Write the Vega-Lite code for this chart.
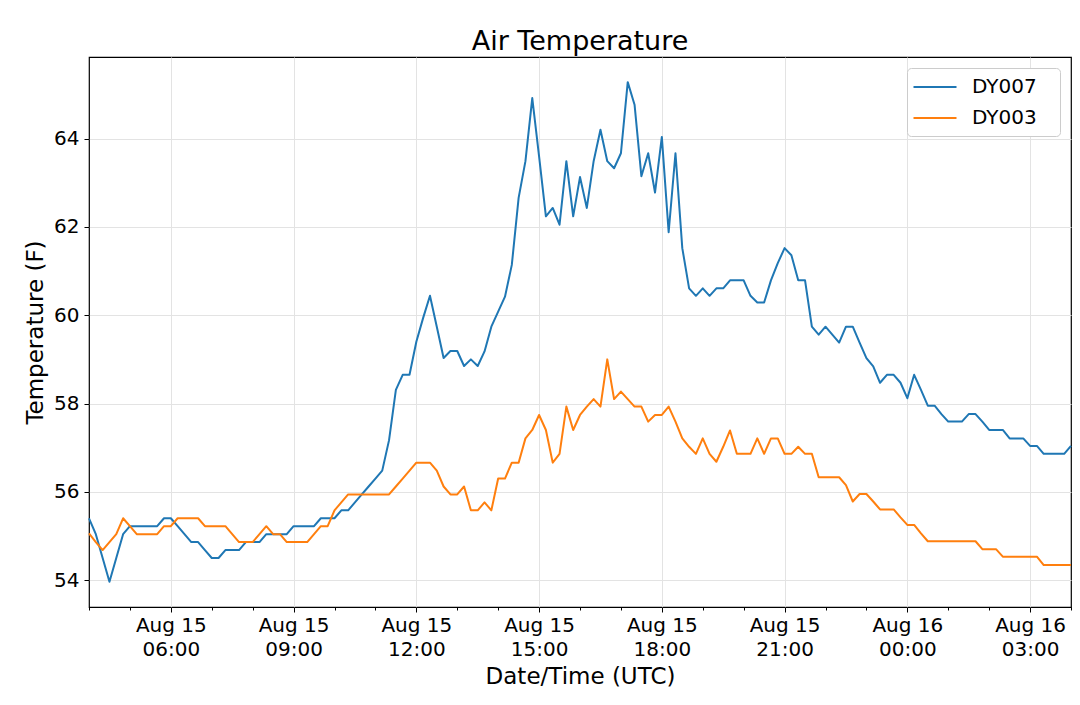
{
  "$schema": "https://vega.github.io/schema/vega-lite/v6.json",
  "autosize": "none",
  "width": 982,
  "height": 550,
  "padding": {"left": 89, "top": 57, "right": 9, "bottom": 98},
  "background": "white",
  "title": {
    "text": "Air Temperature",
    "font": "DejaVu Sans",
    "fontSize": 27,
    "fontWeight": "normal",
    "color": "#000",
    "baseline": "alphabetic",
    "offset": 7,
    "dy": 27
  },
  "data": {
    "values": [
      {"t": "2019-08-15T04:00:00Z", "DY007": 55.40, "DY003": 55.06},
      {"t": "2019-08-15T04:10:00Z", "DY007": 55.04, "DY003": 54.86},
      {"t": "2019-08-15T04:20:00Z", "DY007": 54.50, "DY003": 54.68},
      {"t": "2019-08-15T04:30:00Z", "DY007": 53.96, "DY003": 54.86},
      {"t": "2019-08-15T04:40:00Z", "DY007": 54.50, "DY003": 55.04},
      {"t": "2019-08-15T04:50:00Z", "DY007": 55.04, "DY003": 55.40},
      {"t": "2019-08-15T05:00:00Z", "DY007": 55.22, "DY003": 55.22},
      {"t": "2019-08-15T05:10:00Z", "DY007": 55.22, "DY003": 55.04},
      {"t": "2019-08-15T05:20:00Z", "DY007": 55.22, "DY003": 55.04},
      {"t": "2019-08-15T05:30:00Z", "DY007": 55.22, "DY003": 55.04},
      {"t": "2019-08-15T05:40:00Z", "DY007": 55.22, "DY003": 55.04},
      {"t": "2019-08-15T05:50:00Z", "DY007": 55.40, "DY003": 55.22},
      {"t": "2019-08-15T06:00:00Z", "DY007": 55.40, "DY003": 55.22},
      {"t": "2019-08-15T06:10:00Z", "DY007": 55.22, "DY003": 55.40},
      {"t": "2019-08-15T06:20:00Z", "DY007": 55.04, "DY003": 55.40},
      {"t": "2019-08-15T06:30:00Z", "DY007": 54.86, "DY003": 55.40},
      {"t": "2019-08-15T06:40:00Z", "DY007": 54.86, "DY003": 55.40},
      {"t": "2019-08-15T06:50:00Z", "DY007": 54.68, "DY003": 55.22},
      {"t": "2019-08-15T07:00:00Z", "DY007": 54.50, "DY003": 55.22},
      {"t": "2019-08-15T07:10:00Z", "DY007": 54.50, "DY003": 55.22},
      {"t": "2019-08-15T07:20:00Z", "DY007": 54.68, "DY003": 55.22},
      {"t": "2019-08-15T07:30:00Z", "DY007": 54.68, "DY003": 55.04},
      {"t": "2019-08-15T07:40:00Z", "DY007": 54.68, "DY003": 54.86},
      {"t": "2019-08-15T07:50:00Z", "DY007": 54.86, "DY003": 54.86},
      {"t": "2019-08-15T08:00:00Z", "DY007": 54.86, "DY003": 54.86},
      {"t": "2019-08-15T08:10:00Z", "DY007": 54.86, "DY003": 55.04},
      {"t": "2019-08-15T08:20:00Z", "DY007": 55.04, "DY003": 55.22},
      {"t": "2019-08-15T08:30:00Z", "DY007": 55.04, "DY003": 55.04},
      {"t": "2019-08-15T08:40:00Z", "DY007": 55.04, "DY003": 55.04},
      {"t": "2019-08-15T08:50:00Z", "DY007": 55.04, "DY003": 54.86},
      {"t": "2019-08-15T09:00:00Z", "DY007": 55.22, "DY003": 54.86},
      {"t": "2019-08-15T09:10:00Z", "DY007": 55.22, "DY003": 54.86},
      {"t": "2019-08-15T09:20:00Z", "DY007": 55.22, "DY003": 54.86},
      {"t": "2019-08-15T09:30:00Z", "DY007": 55.22, "DY003": 55.04},
      {"t": "2019-08-15T09:40:00Z", "DY007": 55.40, "DY003": 55.22},
      {"t": "2019-08-15T09:50:00Z", "DY007": 55.40, "DY003": 55.22},
      {"t": "2019-08-15T10:00:00Z", "DY007": 55.40, "DY003": 55.58},
      {"t": "2019-08-15T10:10:00Z", "DY007": 55.58, "DY003": 55.76},
      {"t": "2019-08-15T10:20:00Z", "DY007": 55.58, "DY003": 55.94},
      {"t": "2019-08-15T10:30:00Z", "DY007": 55.76, "DY003": 55.94},
      {"t": "2019-08-15T10:40:00Z", "DY007": 55.94, "DY003": 55.94},
      {"t": "2019-08-15T10:50:00Z", "DY007": 56.12, "DY003": 55.94},
      {"t": "2019-08-15T11:00:00Z", "DY007": 56.30, "DY003": 55.94},
      {"t": "2019-08-15T11:10:00Z", "DY007": 56.48, "DY003": 55.94},
      {"t": "2019-08-15T11:20:00Z", "DY007": 57.17, "DY003": 55.94},
      {"t": "2019-08-15T11:30:00Z", "DY007": 58.31, "DY003": 56.12},
      {"t": "2019-08-15T11:40:00Z", "DY007": 58.65, "DY003": 56.30},
      {"t": "2019-08-15T11:50:00Z", "DY007": 58.65, "DY003": 56.48},
      {"t": "2019-08-15T12:00:00Z", "DY007": 59.40, "DY003": 56.66},
      {"t": "2019-08-15T12:10:00Z", "DY007": 59.94, "DY003": 56.66},
      {"t": "2019-08-15T12:20:00Z", "DY007": 60.44, "DY003": 56.66},
      {"t": "2019-08-15T12:30:00Z", "DY007": 59.74, "DY003": 56.48},
      {"t": "2019-08-15T12:40:00Z", "DY007": 59.03, "DY003": 56.12},
      {"t": "2019-08-15T12:50:00Z", "DY007": 59.19, "DY003": 55.94},
      {"t": "2019-08-15T13:00:00Z", "DY007": 59.19, "DY003": 55.94},
      {"t": "2019-08-15T13:10:00Z", "DY007": 58.85, "DY003": 56.12},
      {"t": "2019-08-15T13:20:00Z", "DY007": 59.00, "DY003": 55.58},
      {"t": "2019-08-15T13:30:00Z", "DY007": 58.85, "DY003": 55.58},
      {"t": "2019-08-15T13:40:00Z", "DY007": 59.18, "DY003": 55.76},
      {"t": "2019-08-15T13:50:00Z", "DY007": 59.74, "DY003": 55.58},
      {"t": "2019-08-15T14:00:00Z", "DY007": 60.08, "DY003": 56.30},
      {"t": "2019-08-15T14:10:00Z", "DY007": 60.42, "DY003": 56.30},
      {"t": "2019-08-15T14:20:00Z", "DY007": 61.14, "DY003": 56.66},
      {"t": "2019-08-15T14:30:00Z", "DY007": 62.66, "DY003": 56.66},
      {"t": "2019-08-15T14:40:00Z", "DY007": 63.49, "DY003": 57.21},
      {"t": "2019-08-15T14:50:00Z", "DY007": 64.92, "DY003": 57.40},
      {"t": "2019-08-15T15:00:00Z", "DY007": 63.60, "DY003": 57.74},
      {"t": "2019-08-15T15:10:00Z", "DY007": 62.24, "DY003": 57.40},
      {"t": "2019-08-15T15:20:00Z", "DY007": 62.43, "DY003": 56.66},
      {"t": "2019-08-15T15:30:00Z", "DY007": 62.05, "DY003": 56.86},
      {"t": "2019-08-15T15:40:00Z", "DY007": 63.49, "DY003": 57.93},
      {"t": "2019-08-15T15:50:00Z", "DY007": 62.24, "DY003": 57.40},
      {"t": "2019-08-15T16:00:00Z", "DY007": 63.13, "DY003": 57.74},
      {"t": "2019-08-15T16:10:00Z", "DY007": 62.43, "DY003": 57.93},
      {"t": "2019-08-15T16:20:00Z", "DY007": 63.49, "DY003": 58.10},
      {"t": "2019-08-15T16:30:00Z", "DY007": 64.20, "DY003": 57.93},
      {"t": "2019-08-15T16:40:00Z", "DY007": 63.49, "DY003": 59.00},
      {"t": "2019-08-15T16:50:00Z", "DY007": 63.33, "DY003": 58.10},
      {"t": "2019-08-15T17:00:00Z", "DY007": 63.67, "DY003": 58.27},
      {"t": "2019-08-15T17:10:00Z", "DY007": 65.28, "DY003": 58.10},
      {"t": "2019-08-15T17:20:00Z", "DY007": 64.77, "DY003": 57.93},
      {"t": "2019-08-15T17:30:00Z", "DY007": 63.15, "DY003": 57.93},
      {"t": "2019-08-15T17:40:00Z", "DY007": 63.67, "DY003": 57.59},
      {"t": "2019-08-15T17:50:00Z", "DY007": 62.78, "DY003": 57.74},
      {"t": "2019-08-15T18:00:00Z", "DY007": 64.04, "DY003": 57.74},
      {"t": "2019-08-15T18:10:00Z", "DY007": 61.88, "DY003": 57.93},
      {"t": "2019-08-15T18:20:00Z", "DY007": 63.67, "DY003": 57.59},
      {"t": "2019-08-15T18:30:00Z", "DY007": 61.52, "DY003": 57.21},
      {"t": "2019-08-15T18:40:00Z", "DY007": 60.61, "DY003": 57.02},
      {"t": "2019-08-15T18:50:00Z", "DY007": 60.44, "DY003": 56.86},
      {"t": "2019-08-15T19:00:00Z", "DY007": 60.61, "DY003": 57.21},
      {"t": "2019-08-15T19:10:00Z", "DY007": 60.44, "DY003": 56.86},
      {"t": "2019-08-15T19:20:00Z", "DY007": 60.61, "DY003": 56.68},
      {"t": "2019-08-15T19:30:00Z", "DY007": 60.61, "DY003": 57.02},
      {"t": "2019-08-15T19:40:00Z", "DY007": 60.79, "DY003": 57.39},
      {"t": "2019-08-15T19:50:00Z", "DY007": 60.79, "DY003": 56.86},
      {"t": "2019-08-15T20:00:00Z", "DY007": 60.79, "DY003": 56.86},
      {"t": "2019-08-15T20:10:00Z", "DY007": 60.44, "DY003": 56.86},
      {"t": "2019-08-15T20:20:00Z", "DY007": 60.29, "DY003": 57.21},
      {"t": "2019-08-15T20:30:00Z", "DY007": 60.29, "DY003": 56.86},
      {"t": "2019-08-15T20:40:00Z", "DY007": 60.79, "DY003": 57.21},
      {"t": "2019-08-15T20:50:00Z", "DY007": 61.18, "DY003": 57.21},
      {"t": "2019-08-15T21:00:00Z", "DY007": 61.52, "DY003": 56.86},
      {"t": "2019-08-15T21:10:00Z", "DY007": 61.36, "DY003": 56.86},
      {"t": "2019-08-15T21:20:00Z", "DY007": 60.79, "DY003": 57.02},
      {"t": "2019-08-15T21:30:00Z", "DY007": 60.79, "DY003": 56.86},
      {"t": "2019-08-15T21:40:00Z", "DY007": 59.74, "DY003": 56.86},
      {"t": "2019-08-15T21:50:00Z", "DY007": 59.56, "DY003": 56.33},
      {"t": "2019-08-15T22:00:00Z", "DY007": 59.74, "DY003": 56.33},
      {"t": "2019-08-15T22:10:00Z", "DY007": 59.56, "DY003": 56.33},
      {"t": "2019-08-15T22:20:00Z", "DY007": 59.38, "DY003": 56.33},
      {"t": "2019-08-15T22:30:00Z", "DY007": 59.74, "DY003": 56.15},
      {"t": "2019-08-15T22:40:00Z", "DY007": 59.74, "DY003": 55.78},
      {"t": "2019-08-15T22:50:00Z", "DY007": 59.38, "DY003": 55.95},
      {"t": "2019-08-15T23:00:00Z", "DY007": 59.03, "DY003": 55.95},
      {"t": "2019-08-15T23:10:00Z", "DY007": 58.84, "DY003": 55.78},
      {"t": "2019-08-15T23:20:00Z", "DY007": 58.47, "DY003": 55.60},
      {"t": "2019-08-15T23:30:00Z", "DY007": 58.65, "DY003": 55.60},
      {"t": "2019-08-15T23:40:00Z", "DY007": 58.65, "DY003": 55.60},
      {"t": "2019-08-15T23:50:00Z", "DY007": 58.47, "DY003": 55.42},
      {"t": "2019-08-16T00:00:00Z", "DY007": 58.12, "DY003": 55.25},
      {"t": "2019-08-16T00:10:00Z", "DY007": 58.65, "DY003": 55.25},
      {"t": "2019-08-16T00:20:00Z", "DY007": 58.31, "DY003": 55.06},
      {"t": "2019-08-16T00:30:00Z", "DY007": 57.95, "DY003": 54.88},
      {"t": "2019-08-16T00:40:00Z", "DY007": 57.95, "DY003": 54.88},
      {"t": "2019-08-16T00:50:00Z", "DY007": 57.76, "DY003": 54.88},
      {"t": "2019-08-16T01:00:00Z", "DY007": 57.59, "DY003": 54.88},
      {"t": "2019-08-16T01:10:00Z", "DY007": 57.59, "DY003": 54.88},
      {"t": "2019-08-16T01:20:00Z", "DY007": 57.59, "DY003": 54.88},
      {"t": "2019-08-16T01:30:00Z", "DY007": 57.76, "DY003": 54.88},
      {"t": "2019-08-16T01:40:00Z", "DY007": 57.76, "DY003": 54.88},
      {"t": "2019-08-16T01:50:00Z", "DY007": 57.59, "DY003": 54.70},
      {"t": "2019-08-16T02:00:00Z", "DY007": 57.40, "DY003": 54.70},
      {"t": "2019-08-16T02:10:00Z", "DY007": 57.40, "DY003": 54.70},
      {"t": "2019-08-16T02:20:00Z", "DY007": 57.40, "DY003": 54.53},
      {"t": "2019-08-16T02:30:00Z", "DY007": 57.21, "DY003": 54.53},
      {"t": "2019-08-16T02:40:00Z", "DY007": 57.21, "DY003": 54.53},
      {"t": "2019-08-16T02:50:00Z", "DY007": 57.21, "DY003": 54.53},
      {"t": "2019-08-16T03:00:00Z", "DY007": 57.04, "DY003": 54.53},
      {"t": "2019-08-16T03:10:00Z", "DY007": 57.04, "DY003": 54.53},
      {"t": "2019-08-16T03:20:00Z", "DY007": 56.86, "DY003": 54.34},
      {"t": "2019-08-16T03:30:00Z", "DY007": 56.86, "DY003": 54.34},
      {"t": "2019-08-16T03:40:00Z", "DY007": 56.86, "DY003": 54.34},
      {"t": "2019-08-16T03:50:00Z", "DY007": 56.86, "DY003": 54.34},
      {"t": "2019-08-16T04:00:00Z", "DY007": 57.04, "DY003": 54.34}
    ]
  },
  "transform": [
    {"fold": ["DY007", "DY003"], "as": ["station", "temp"]}
  ],
  "mark": {"type": "line", "strokeWidth": 2, "strokeJoin": "round"},
  "encoding": {
    "x": {
      "field": "t",
      "type": "temporal",
      "scale": {
        "type": "utc",
        "domain": [
          {"year": 2019, "month": 8, "date": 15, "hours": 4, "utc": true},
          {"year": 2019, "month": 8, "date": 16, "hours": 4, "utc": true}
        ]
      },
      "axis": {
        "title": "Date/Time (UTC)",
        "titleX": 491,
        "titleY": 76,
        "titleBaseline": "alphabetic",
        "titleAlign": "center",
        "values": [
          {"year": 2019, "month": 8, "date": 15, "hours": 4, "utc": true},
          {"year": 2019, "month": 8, "date": 15, "hours": 5, "utc": true},
          {"year": 2019, "month": 8, "date": 15, "hours": 6, "utc": true},
          {"year": 2019, "month": 8, "date": 15, "hours": 7, "utc": true},
          {"year": 2019, "month": 8, "date": 15, "hours": 8, "utc": true},
          {"year": 2019, "month": 8, "date": 15, "hours": 9, "utc": true},
          {"year": 2019, "month": 8, "date": 15, "hours": 10, "utc": true},
          {"year": 2019, "month": 8, "date": 15, "hours": 11, "utc": true},
          {"year": 2019, "month": 8, "date": 15, "hours": 12, "utc": true},
          {"year": 2019, "month": 8, "date": 15, "hours": 13, "utc": true},
          {"year": 2019, "month": 8, "date": 15, "hours": 14, "utc": true},
          {"year": 2019, "month": 8, "date": 15, "hours": 15, "utc": true},
          {"year": 2019, "month": 8, "date": 15, "hours": 16, "utc": true},
          {"year": 2019, "month": 8, "date": 15, "hours": 17, "utc": true},
          {"year": 2019, "month": 8, "date": 15, "hours": 18, "utc": true},
          {"year": 2019, "month": 8, "date": 15, "hours": 19, "utc": true},
          {"year": 2019, "month": 8, "date": 15, "hours": 20, "utc": true},
          {"year": 2019, "month": 8, "date": 15, "hours": 21, "utc": true},
          {"year": 2019, "month": 8, "date": 15, "hours": 22, "utc": true},
          {"year": 2019, "month": 8, "date": 15, "hours": 23, "utc": true},
          {"year": 2019, "month": 8, "date": 16, "hours": 0, "utc": true},
          {"year": 2019, "month": 8, "date": 16, "hours": 1, "utc": true},
          {"year": 2019, "month": 8, "date": 16, "hours": 2, "utc": true},
          {"year": 2019, "month": 8, "date": 16, "hours": 3, "utc": true},
          {"year": 2019, "month": 8, "date": 16, "hours": 4, "utc": true}
        ],
        "labelExpr": "utchours(datum.value) % 3 == 0 ? [utcFormat(datum.value, '%b %d'), utcFormat(datum.value, '%H:%M')] : ''",
        "labelOverlap": false,
        "labelFlush": false,
        "labelBaseline": "top",
        "labelPadding": 3,
        "labelLineHeight": 24,
        "tickSize": {"condition": {"test": "utchours(datum.value) % 3 == 0", "value": 5}, "value": 3},
        "gridOpacity": {"condition": {"test": "utchours(datum.value) % 3 == 0", "value": 1}, "value": 0}
      }
    },
    "y": {
      "field": "temp",
      "type": "quantitative",
      "scale": {"domain": [53.39, 65.85], "nice": false, "zero": false},
      "axis": {
        "title": "Temperature (F)",
        "values": [54, 56, 58, 60, 62, 64],
        "titleX": -47,
        "titleY": 275,
        "titleAngle": -90,
        "titleBaseline": "alphabetic",
        "titleAlign": "center",
        "tickSize": 5,
        "labelPadding": 5
      }
    },
    "color": {
      "field": "station",
      "type": "nominal",
      "scale": {"domain": ["DY007", "DY003"], "range": ["#1f77b4", "#ff7f0e"]},
      "legend": {
        "title": null,
        "orient": "top-right",
        "offset": 11,
        "symbolType": "M-2.15,0H2.15",
        "symbolSize": 400,
        "symbolStrokeWidth": 2,
        "symbolOffset": 9,
        "labelOffset": 26,
        "labelExpr": "datum.label + '\u2800'",
        "rowPadding": 10,
        "padding": 8,
        "labelFontSize": 20,
        "labelFont": "DejaVu Sans",
        "labelColor": "#000",
        "strokeColor": "#cccccc",
        "fillColor": "white",
        "cornerRadius": 4
      }
    }
  },
  "config": {
    "font": "DejaVu Sans",
    "view": {"stroke": "#000", "strokeWidth": 1.2},
    "axis": {
      "domain": false,
      "grid": true,
      "gridColor": "#e3e3e3",
      "gridWidth": 1,
      "tickColor": "#000",
      "tickWidth": 1,
      "labelFont": "DejaVu Sans",
      "labelFontSize": 20,
      "labelColor": "#000",
      "titleFont": "DejaVu Sans",
      "titleFontSize": 23,
      "titleFontWeight": "normal",
      "titleColor": "#000"
    }
  }
}
